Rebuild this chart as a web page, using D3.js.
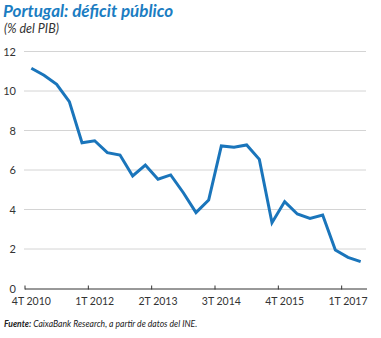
<!DOCTYPE html>
<html>
<head>
<meta charset="utf-8">
<script src="https://cdn.jsdelivr.net/npm/d3@7"></script>
<style>
  body { margin: 0; background: #fff; }
  text { font-family: Lato, "Open Sans", sans-serif; }
</style>
</head>
<body>
<div id="chart"></div>
<script>
// quarters from 4T 2010 to 2T 2017
const quarters = ["4T 2010",
  "1T 2011", "2T 2011", "3T 2011", "4T 2011",
  "1T 2012", "2T 2012", "3T 2012", "4T 2012",
  "1T 2013", "2T 2013", "3T 2013", "4T 2013",
  "1T 2014", "2T 2014", "3T 2014", "4T 2014",
  "1T 2015", "2T 2015", "3T 2015", "4T 2015",
  "1T 2016", "2T 2016", "3T 2016", "4T 2016",
  "1T 2017", "2T 2017"];
const deficit = [11.15, 10.8, 10.34, 9.46, 7.38, 7.48, 6.88, 6.76, 5.7, 6.25, 5.53, 5.75,
  4.85, 3.84, 4.48, 7.22, 7.15, 7.27, 6.54, 3.33, 4.4, 3.77, 3.55, 3.72, 1.95, 1.58, 1.36];
const xTickLabels = ["4T 2010", "1T 2012", "2T 2013", "3T 2014", "4T 2015", "1T 2017"];
const yTicks = [0, 2, 4, 6, 8, 10, 12];

const width = 381, height = 338;
const margin = {top: 51.5, right: 14, bottom: 49.5, left: 25};

const svg = d3.select("#chart").append("svg")
  .attr("width", width)
  .attr("height", height);

const x = d3.scaleBand().domain(quarters).range([margin.left, width - margin.right]).padding(0);
const y = d3.scaleLinear().domain([0, 12]).range([height - margin.bottom, margin.top]);

// title
svg.append("text")
  .attr("x", 3).attr("y", 17)
  .attr("fill", "#1b7dc2")
  .style("font-size", "17px").style("font-weight", "bold").style("font-style", "italic")
  .text("Portugal: déficit público");
svg.append("text")
  .attr("x", 4).attr("y", 33)
  .attr("fill", "#333")
  .style("font-size", "12.5px").style("font-style", "italic")
  .text("(% del PIB)");

// gridlines + y labels
svg.append("g")
  .selectAll("line")
  .data(yTicks.filter(d => d > 0))
  .join("line")
  .attr("x1", margin.left - 1).attr("x2", width - margin.right - 1)
  .attr("y1", d => y(d)).attr("y2", d => y(d))
  .attr("stroke", "#d4d4d4").attr("stroke-width", 1);

svg.append("g")
  .selectAll("text")
  .data(yTicks)
  .join("text")
  .attr("x", 16).attr("y", d => y(d) + 4)
  .attr("text-anchor", "end")
  .attr("fill", "#333")
  .style("font-size", "11px")
  .text(d => d);

// x axis: labels at band centre, tick marks at band start
const xAxis = d3.axisBottom(x)
  .tickValues(xTickLabels)
  .tickSize(0)
  .tickPadding(9);
const gx = svg.append("g")
  .attr("transform", `translate(0,${y(0)})`)
  .call(xAxis);
gx.select(".domain").remove();
gx.selectAll(".tick text")
  .attr("fill", "#333")
  .style("font-size", "10.5px")
  .style("font-family", "Lato, sans-serif");
gx.selectAll(".tick").append("line")
  .attr("x1", -x.bandwidth() / 2).attr("x2", -x.bandwidth() / 2)
  .attr("y1", -3).attr("y2", 1)
  .attr("stroke", "#333");
gx.append("line")
  .attr("x1", margin.left).attr("x2", width - margin.right)
  .attr("y1", 0.5).attr("y2", 0.5)
  .attr("stroke", "#333").attr("stroke-width", 1);

// line
const line = d3.line()
  .x((d, i) => x(quarters[i]) + x.bandwidth() / 2)
  .y(d => y(d));
svg.append("path")
  .datum(deficit)
  .attr("d", line)
  .attr("fill", "none")
  .attr("stroke", "#1a75bb")
  .attr("stroke-width", 3)
  .attr("stroke-linejoin", "miter");

// source
const src = svg.append("text")
  .attr("x", 4).attr("y", 327)
  .attr("fill", "#222")
  .style("font-size", "8.6px").style("font-style", "italic");
src.append("tspan").style("font-weight", "bold").text("Fuente:");
src.append("tspan").text(" CaixaBank Research, a partir de datos del INE.");
</script>
</body>
</html>
